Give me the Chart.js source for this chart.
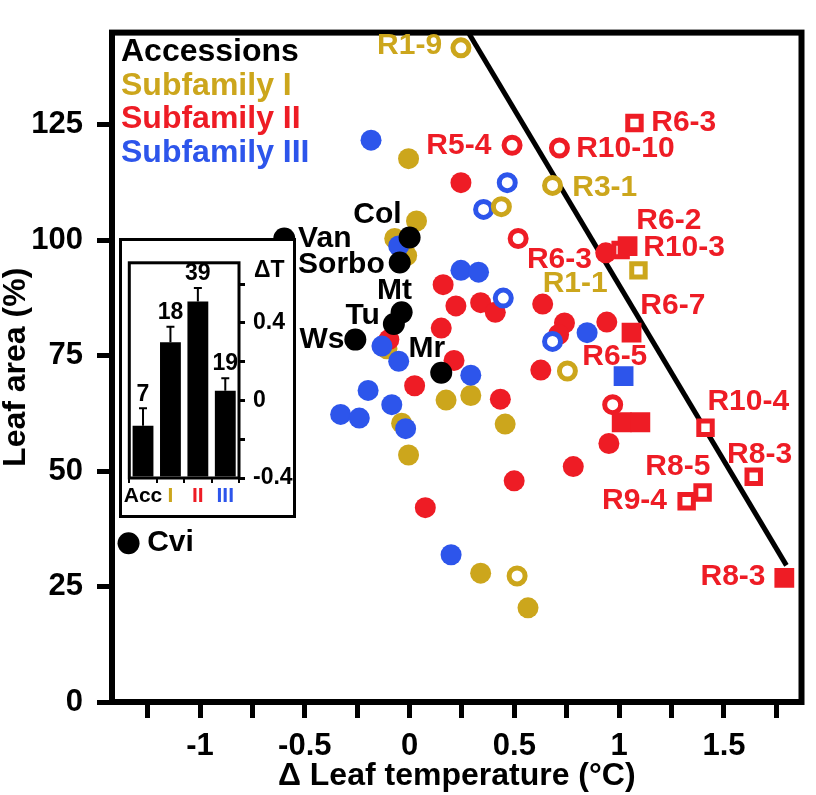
<!DOCTYPE html>
<html>
<head>
<meta charset="utf-8">
<script src="https://cdn.jsdelivr.net/npm/chart.js@4.4.1/dist/chart.umd.min.js"></script>
<style>
  html, body { margin: 0; padding: 0; background: #fff; }
  #wrap { position: relative; width: 816px; height: 795px; }
  #main { display: block; }
  #inset {
    position: absolute; left: 119px; top: 238px;
    width: 171px; height: 274px;
    border: 3px solid #000; background: #fff;
  }
  #bars { display: block; }
</style>
</head>
<body>
<div id="wrap">
  <canvas id="main" width="816" height="795"></canvas>
  <div id="inset"><canvas id="bars" width="171" height="274"></canvas></div>
</div>
<script>
  'use strict';

  // ---- data ----
  const accessionNames = ['Van', 'Col', 'Sorbo', 'Mt', 'Tu', 'Ws', 'Mr', 'Cvi'];
  const accessionPoints = [
    [-0.598, 100.4], [0.0, 100.6], [-0.047, 95.2], [-0.038, 84.4],
    [-0.075, 81.9], [-0.259, 78.5], [0.151, 71.3], [-1.341, 34.4]
  ];
  const subIFilled = [
    [-0.005, 117.7], [0.033, 104.2], [-0.071, 100.4], [-0.014, 96.7],
    [-0.108, 76.5], [-0.038, 60.4], [-0.005, 53.5], [0.174, 65.4],
    [0.292, 66.4], [0.456, 60.2], [0.339, 27.9], [0.565, 20.4]
  ];
  const subIOpen = [[0.245, 141.7], [0.438, 107.3], [0.682, 111.9], [0.753, 71.7], [0.513, 27.3]];
  const subIOpenSquare = [[1.092, 93.5]];
  const subIIFilled = [
    [0.245, 112.5], [0.16, 90.4], [0.221, 85.8], [0.339, 86.5], [0.409, 84.4],
    [0.151, 81.0], [0.635, 86.2], [0.739, 82.1], [0.711, 79.6], [0.941, 82.3],
    [-0.099, 78.5], [0.212, 74.0], [0.024, 68.5], [0.433, 65.6], [0.626, 71.9],
    [0.499, 47.9], [0.075, 42.1], [0.781, 51.0], [0.951, 56.0], [0.936, 97.3]
  ];
  const subIIOpen = [[0.489, 120.6], [0.715, 120.0], [0.518, 100.4], [0.969, 64.4]];
  const subIIFilledSquare = [[1.04, 98.75], [1.059, 80.0], [1.012, 60.6], [1.101, 60.6], [1.788, 26.9]];
  const subIIOpenSquare = [[1.073, 125.4], [1.007, 97.9], [1.412, 59.4], [1.642, 48.8], [1.398, 45.4], [1.322, 43.5]];
  const subIIIFilled = [
    [-0.184, 121.7], [-0.052, 98.8], [-0.132, 77.1], [-0.052, 73.8], [-0.198, 67.5],
    [-0.085, 64.4], [-0.019, 59.2], [-0.329, 62.3], [-0.24, 61.5], [0.245, 93.5],
    [0.329, 93.1], [0.292, 70.8], [0.198, 31.9], [0.847, 80.0]
  ];
  const subIIIOpen = [[0.466, 112.5], [0.353, 106.7], [0.447, 87.5], [0.682, 78.1]];
  const subIIIFilledSquare = [[1.021, 70.6]];
  const boundaryLine = [[0.278, 145.2], [1.798, 29.6]];

  // line names on the plot (anchor in data units)
  const lineNames = [
    ['R1-9', 'I', 0.155, 142.1, 'right'],
    ['Col', 'A', -0.038, 105.6, 'right'],
    ['Van', 'A', -0.532, 100.4, 'left'],
    ['Sorbo', 'A', -0.532, 94.8, 'left'],
    ['Mt', 'A', -0.155, 89.0, 'left'],
    ['Tu', 'A', -0.306, 83.75, 'left'],
    ['Ws', 'A', -0.311, 78.5, 'right'],
    ['Mr', 'A', -0.005, 76.5, 'left'],
    ['Cvi', 'A', -1.252, 34.4, 'left'],
    ['R5-4', 'II', 0.08, 120.6, 'left'],
    ['R10-10', 'II', 0.795, 119.8, 'left'],
    ['R6-3', 'II', 1.153, 125.4, 'left'],
    ['R3-1', 'I', 0.776, 111.5, 'left'],
    ['R6-2', 'II', 1.082, 104.2, 'left'],
    ['R10-3', 'II', 1.115, 98.3, 'left'],
    ['R6-3', 'II', 0.56, 95.8, 'left'],
    ['R1-1', 'I', 0.635, 90.6, 'left'],
    ['R6-7', 'II', 1.101, 85.8, 'left'],
    ['R6-5', 'II', 0.824, 74.8, 'left'],
    ['R10-4', 'II', 1.421, 65.0, 'left'],
    ['R8-3', 'II', 1.515, 53.5, 'left'],
    ['R8-5', 'II', 1.125, 51.0, 'left'],
    ['R9-4', 'II', 0.918, 43.5, 'left'],
    ['R8-3', 'II', 1.388, 27.1, 'left']
  ];

  const legendNames = ['Accessions', 'Subfamily I', 'Subfamily II', 'Subfamily III'];

  // inset bar chart
  const insetCategories = ['Acc', 'I', 'II', 'III'];
  const insetMeans = [-0.13, 0.30, 0.51, 0.05];
  const insetErrors = [0.09, 0.08, 0.07, 0.065];
  const insetCounts = [7, 18, 39, 19];

  // ---- styling ----
  const FONT = '"Liberation Sans", Arial, Helvetica, sans-serif';
  const colors = { A: '#000000', I: '#CCA61C', II: '#EE1C25', III: '#2D55EB' };
  const legendColors = [colors.A, colors.I, colors.II, colors.III];
  const insetColors = [colors.A, colors.I, colors.II, colors.III];

  function toXY(list) {
    return list.map(p => ({ x: p[0], y: p[1] }));
  }

  function filled(data, color, r) {
    return { data: toXY(data), pointStyle: 'circle', pointRadius: r || 10.5,
      backgroundColor: color, borderColor: color, borderWidth: 0 };
  }
  function ring(data, color) {
    return { data: toXY(data), pointStyle: 'circle', pointRadius: 8,
      backgroundColor: '#fff', borderColor: color, borderWidth: 5 };
  }
  function square(data, color) {
    return { data: toXY(data), pointStyle: 'rect', pointRadius: 14,
      backgroundColor: color, borderColor: color, borderWidth: 0 };
  }
  function openSquare(data, color) {
    return { data: toXY(data), pointStyle: 'rect', pointRadius: 9.5,
      backgroundColor: '#fff', borderColor: color, borderWidth: 5 };
  }

  // first dataset is drawn on top
  const datasets = [
    filled(accessionPoints, colors.A, 11),
    square(subIIFilledSquare, colors.II),
    openSquare(subIIOpenSquare, colors.II),
    openSquare(subIOpenSquare, colors.I),
    square(subIIIFilledSquare, colors.III),
    ring(subIIOpen, colors.II),
    ring(subIOpen, colors.I),
    ring(subIIIOpen, colors.III),
    filled(subIIIFilled, colors.III),
    filled(subIIFilled, colors.II),
    filled(subIFilled, colors.I),
    { type: 'line', data: toXY(boundaryLine), showLine: true, pointRadius: 0,
      borderColor: '#000', borderWidth: 5, fill: false }
  ];

  const mainPlugin = {
    id: 'mainDecor',
    afterDatasetsDraw(chart) {
      const { ctx, chartArea: a, scales } = chart;
      ctx.save();
      // frame
      ctx.strokeStyle = '#000';
      ctx.lineWidth = 6;
      ctx.strokeRect(a.left, a.top, a.right - a.left, a.bottom - a.top);
      // legend text
      ctx.font = 'bold 32px ' + FONT;
      ctx.textAlign = 'left';
      ctx.textBaseline = 'middle';
      legendNames.forEach((t, i) => {
        ctx.fillStyle = legendColors[i];
        ctx.fillText(t, a.left + 9, a.top + 20 + i * 33.4);
      });
      // line names
      ctx.font = 'bold 30px ' + FONT;
      lineNames.forEach(l => {
        ctx.fillStyle = colors[l[1]];
        ctx.textAlign = l[4];
        ctx.fillText(l[0], scales.x.getPixelForValue(l[2]), scales.y.getPixelForValue(l[3]));
      });
      ctx.restore();
    }
  };

  new Chart(document.getElementById('main'), {
    type: 'scatter',
    data: { datasets: datasets },
    options: {
      responsive: false,
      animation: false,
      events: [],
      layout: { padding: { top: 5, right: 6, left: 0, bottom: 0 } },
      plugins: { legend: { display: false }, tooltip: { enabled: false } },
      scales: {
        x: {
          type: 'linear',
          min: -1.42,
          max: 1.87,
          afterFit: s => { s.height = 93; },
          border: { display: false },
          grid: { drawOnChartArea: false, drawTicks: true, tickLength: 16, lineWidth: 5, color: '#000' },
          ticks: {
            stepSize: 0.25,
            includeBounds: false,
            autoSkip: false,
            maxRotation: 0,
            padding: 10,
            color: '#000',
            font: { family: FONT, size: 31, weight: 'bold' },
            callback: v => {
              const h = v * 2;
              return Math.abs(h - Math.round(h)) < 1e-6 ? String(Math.round(h) / 2) : '';
            }
          },
          title: {
            display: true,
            text: 'Δ Leaf temperature (°C)',
            color: '#000',
            font: { family: FONT, size: 32, weight: 'bold', lineHeight: 1.2 },
            padding: { top: 0, bottom: 0 }
          }
        },
        y: {
          min: 0,
          max: 145,
          afterFit: s => { s.width = 112; },
          border: { display: false },
          grid: { drawOnChartArea: false, drawTicks: true, tickLength: 15, lineWidth: 5, color: '#000' },
          ticks: {
            stepSize: 25,
            includeBounds: false,
            padding: 14,
            color: '#000',
            font: { family: FONT, size: 31, weight: 'bold' }
          },
          title: {
            display: true,
            text: 'Leaf area (%)',
            color: '#000',
            font: { family: FONT, size: 32, weight: 'bold', lineHeight: 1 },
            padding: { top: 0, bottom: 0 }
          }
        }
      }
    },
    plugins: [mainPlugin]
  });

  // ---- inset ----
  const insetPlugin = {
    id: 'insetDecor',
    afterDatasetsDraw(chart) {
      const { ctx, chartArea: a, scales } = chart;
      const meta = chart.getDatasetMeta(0);
      ctx.save();
      ctx.strokeStyle = '#000';
      ctx.lineWidth = 3;
      ctx.strokeRect(a.left, a.top, a.right - a.left, a.bottom - a.top);
      ctx.lineWidth = 2;
      ctx.fillStyle = '#000';
      ctx.font = 'bold 23px ' + FONT;
      ctx.textAlign = 'center';
      ctx.textBaseline = 'middle';
      meta.data.forEach((bar, i) => {
        const yTop = scales.y.getPixelForValue(insetMeans[i] + insetErrors[i]);
        ctx.beginPath();
        ctx.moveTo(bar.x, bar.y);
        ctx.lineTo(bar.x, yTop);
        ctx.moveTo(bar.x - 4, yTop);
        ctx.lineTo(bar.x + 4, yTop);
        ctx.stroke();
        ctx.fillText(String(insetCounts[i]), bar.x, yTop - 14);
      });
      ctx.textAlign = 'left';
      ctx.fillText('ΔT', a.right + 15, a.top + 8);
      ctx.restore();
    }
  };

  new Chart(document.getElementById('bars'), {
    type: 'bar',
    data: {
      labels: insetCategories,
      datasets: [{
        data: insetMeans,
        base: -0.4,
        backgroundColor: '#000',
        borderWidth: 0,
        barPercentage: 0.76,
        categoryPercentage: 1
      }]
    },
    options: {
      responsive: false,
      animation: false,
      events: [],
      layout: { padding: { left: 6, top: 7, right: 0, bottom: 0 } },
      plugins: { legend: { display: false }, tooltip: { enabled: false } },
      scales: {
        x: {
          afterFit: s => { s.height = 37; },
          border: { display: false },
          grid: { drawOnChartArea: false, offset: true, tickLength: 5, lineWidth: 2, color: '#000' },
          ticks: {
            padding: 1,
            autoSkip: false,
            maxRotation: 0,
            minRotation: 0,
            color: c => insetColors[c.index],
            font: { family: FONT, size: 21, weight: 'bold' }
          }
        },
        y: {
          position: 'right',
          min: -0.4,
          max: 0.71,
          afterFit: s => { s.width = 54; },
          border: { display: false },
          grid: { drawOnChartArea: false, tickLength: 6, lineWidth: 3, color: '#000' },
          ticks: {
            stepSize: 0.2,
            includeBounds: false,
            padding: 8,
            color: '#000',
            font: { family: FONT, size: 23, weight: 'bold' },
            callback: v => {
              const k = Math.round(v * 10);
              if (k % 4 !== 0) return '';
              return k === 0 ? '0' : (k / 10).toFixed(1);
            }
          }
        }
      }
    },
    plugins: [insetPlugin]
  });
</script>
</body>
</html>
